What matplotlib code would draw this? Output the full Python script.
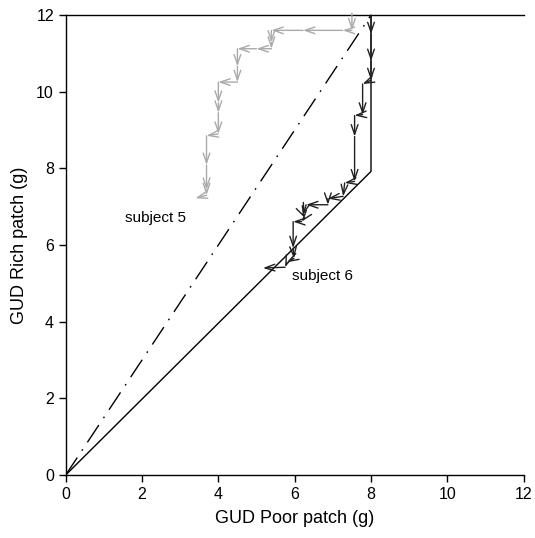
import matplotlib
matplotlib.use("Agg")
import matplotlib.pyplot as plt

plt.rcParams['font.family'] = ['Liberation Sans', 'DejaVu Sans']

# Model boundary (solid) and dash-dot line
bound_x = [0, 8.0, 8.0]
bound_y = [0, 7.92, 12.0]
dd_x = [0, 8.0]
dd_y = [0, 12.0]

# Subject 5 trajectory (grey)
s5_poor = [8.0, 7.5, 7.5, 7.26, 6.22, 5.39, 5.39, 5.39, 5.0, 4.5, 4.5, 4.5, 4.0,
           4.0, 4.0, 4.0, 3.69, 3.69, 3.69, 3.69, 3.4]
s5_rich = [12.0, 12.05, 11.6, 11.6, 11.6, 11.6, 11.28, 11.12, 11.12, 11.12, 10.66, 10.25, 10.25,
           9.71, 9.45, 8.9, 8.85, 8.09, 7.44, 7.3, 7.22]

# Subject 6 trajectory (black)
s6_poor = [8.0, 8.0, 8.0, 8.0, 7.78, 7.78, 7.57, 7.57, 7.57, 7.31, 7.27, 6.87, 6.87, 6.3,
           6.22, 6.26, 6.18, 5.96, 5.96, 5.98, 5.8, 5.75, 5.17]
s6_rich = [12.0, 11.5, 10.8, 10.3, 10.2, 9.4, 9.38, 8.83, 7.66, 7.62, 7.27, 7.21, 7.05, 7.05,
           6.79, 6.71, 6.61, 6.61, 5.92, 5.65, 5.55, 5.42, 5.4]

xticks = [0, 2, 4, 6, 8, 10, 12]
yticks = [0, 2, 4, 6, 8, 10, 12]

fig = plt.figure(figsize=(5.35, 5.38), dpi=100)
ax = fig.add_axes([0.1228, 0.1171, 0.856, 0.855])

ax.plot(bound_x, bound_y, color='black', lw=1.0)
ax.plot(dd_x, dd_y, color='black', lw=1.0, dashes=(15, 6, 1.2, 6))

def draw_path(px, py, color):
    for i in range(len(px) - 1):
        ax.annotate('', xy=(px[i + 1], py[i + 1]), xytext=(px[i], py[i]),
                    arrowprops=dict(arrowstyle='->,head_length=0.7,head_width=0.24',
                                    color=color, lw=1.0, shrinkA=0, shrinkB=0))

draw_path(s5_poor, s5_rich, '#aaaaaa')
draw_path(s6_poor, s6_rich, '#202020')

ax.text(1.55, 6.7, 'subject 5', fontsize=11, ha='left', va='center')
ax.text(5.92, 5.18, 'subject 6', fontsize=11, ha='left', va='center')

ax.set_xlim(0, 12)
ax.set_ylim(0, 12)
ax.set_xticks(xticks)
ax.set_yticks(yticks)
ax.tick_params(direction='out', length=5, width=1, labelsize=11.5)
ax.spines['right'].set_visible(False)
for s in ['left', 'bottom', 'top']:
    ax.spines[s].set_linewidth(1.0)

ax.set_xlabel('GUD Poor patch (g)', fontsize=13, labelpad=6)
ax.set_ylabel('GUD Rich patch (g)', fontsize=13, labelpad=6)

fig.savefig('out.png', dpi=100)
